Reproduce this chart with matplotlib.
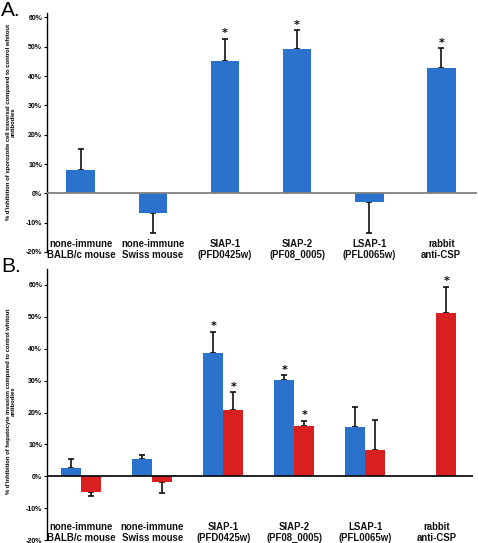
import numpy as np
import matplotlib
matplotlib.use('Agg')
import matplotlib.pyplot as plt

# ── data ──────────────────────────────────────────────
categories = ['none-immune\nBALB/c mouse', 'none-immune\nSwiss mouse',
              'SIAP-1\n(PFD0425w)', 'SIAP-2\n(PF08_0005)',
              'LSAP-1\n(PFL0065w)', 'rabbit\nanti-CSP']

a_vals = [8.0, -6.8, 45.0, 49.2, -2.9, 42.7]
a_err  = [7.2, 6.8, 7.6, 6.4, 10.5, 6.8]
a_star = [False, False, True, True, False, True]

b_blue      = [2.7, 5.4, 38.8, 30.1, 15.3, np.nan]
b_blue_err  = [2.8, 1.4, 6.4, 1.6, 6.5, np.nan]
b_blue_star = [False, False, True, True, False, False]
b_red       = [-4.9, -1.7, 20.8, 15.9, 8.1, 51.3]
b_red_err   = [1.2, 3.6, 5.5, 1.4, 9.4, 8.2]
b_red_star  = [False, False, True, True, False, True]

ylab_a = "% d'inhibition of sporozoite cell traversal compared to control whitout\nantibodies"
ylab_b = "% d'inhibition of hepatocyte invasion compared to control whitout\nantibodies"

BLUE = '#2a72cc'
RED  = '#d92020'

plt.rcParams['font.family'] = ['Liberation Sans', 'DejaVu Sans']


def one_sided(vals, errs):
    lo = [e if v < 0 else 0 for v, e in zip(vals, errs)]
    hi = [e if v >= 0 else 0 for v, e in zip(vals, errs)]
    return np.array([lo, hi])


def bars(ax, x, vals, errs, stars, width, color):
    v = np.array(vals, dtype=float)
    e = np.array(errs, dtype=float)
    keep = ~np.isnan(v)
    ax.bar(x[keep], v[keep], width=width, color=color, edgecolor='none', zorder=2)
    ax.errorbar(x[keep], v[keep], yerr=one_sided(v[keep], e[keep]),
                fmt='none', ecolor='#111111', elinewidth=1.2, capsize=2.5,
                capthick=1.2, zorder=1)
    for xi, vi, ei, s in zip(x, v, e, stars):
        if s:
            ax.annotate('*', (xi, vi + ei), xytext=(0, 0.5), textcoords='offset points',
                        ha='center', va='bottom', fontsize=8, fontweight='bold',
                        family='DejaVu Sans')


def style(ax, top, zcolor, lab_y):
    ax.set_ylim(-20, top)
    ax.set_yticks(np.arange(-20, 61, 10))
    ax.set_yticklabels([f'{t}%' for t in range(-20, 61, 10)],
                       fontsize=5, fontweight='bold')
    ax.tick_params(axis='y', direction='out', length=2.5, width=0.8, pad=1)
    ax.tick_params(axis='x', length=0, labelbottom=False)
    for s in ['top', 'right', 'bottom']:
        ax.spines[s].set_visible(False)
    ax.spines['left'].set_linewidth(1.0)
    ax.axhline(0, color=zcolor, lw=1.3, zorder=3)
    for i, c in enumerate(categories):
        ax.text(i, lab_y, c, ha='center', va='center', fontsize=6.9,
                fontweight='bold', color='#111111', linespacing=1.15)


fig = plt.figure(figsize=(4.78, 5.43), dpi=100)

# ── Panel A ──
axA = fig.add_axes([0.0983, 0.536, 0.90, 0.440])
x = np.arange(len(categories))
bars(axA, x, a_vals, a_err, a_star, 0.40, BLUE)
axA.set_xlim(-0.47, 5.5)
style(axA, 61.5, '#808080', -19.2)

# ── Panel B ──
axB = fig.add_axes([0.0983, 0.0055, 0.892, 0.499])
w = 0.28
bars(axB, x - w / 2, b_blue, b_blue_err, b_blue_star, w, BLUE)
bars(axB, x + w / 2, b_red, b_red_err, b_red_star, w, RED)
axB.set_xlim(-0.48, 5.52)
style(axB, 65, '#111111', -17.6)

# rotated y labels
fig.text(0.023, 1 - 122 / 543, ylab_a, rotation=90, ha='center', va='center',
         fontsize=4.2, fontweight='bold', linespacing=1.0, multialignment='center')
fig.text(0.023, 1 - 401 / 543, ylab_b, rotation=90, ha='center', va='center',
         fontsize=4.2, fontweight='bold', linespacing=1.0, multialignment='center')

fig.text(0.002, 0.998, 'A.', fontsize=15, va='top', ha='left')
fig.text(0.002, 0.527, 'B.', fontsize=15, va='top', ha='left')

fig.savefig('out.png', dpi=100)
